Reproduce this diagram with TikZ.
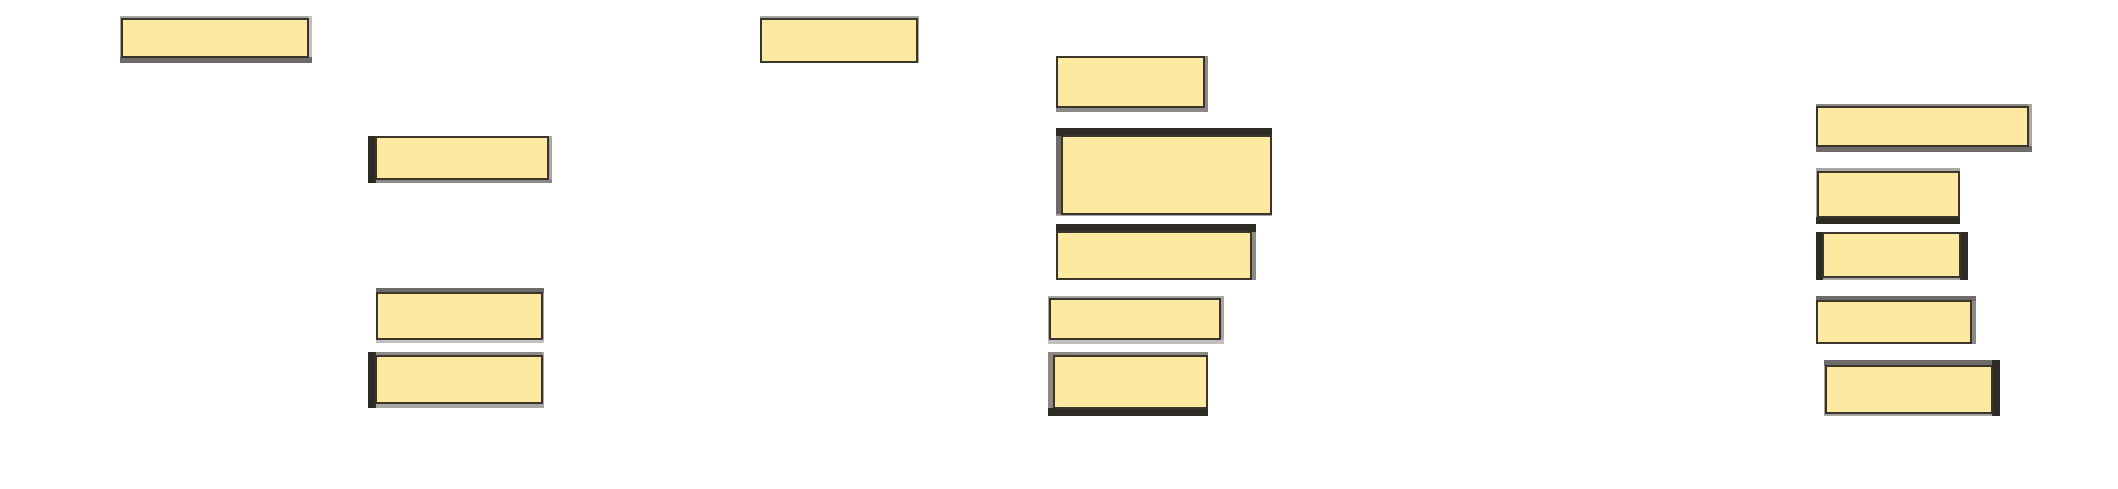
\documentclass[tikz,border=0pt]{standalone}
\usetikzlibrary{calc}
\definecolor{boxyel}{HTML}{FEE9A0}
\definecolor{boxline}{HTML}{3A3528}
\definecolor{cdk}{HTML}{2E2A25}
\definecolor{cmd}{HTML}{6E6B6A}
\definecolor{cgr}{HTML}{8C8987}
\definecolor{clt}{HTML}{A9A6A4}
\definecolor{clr}{HTML}{C2C0BE}
\tikzset{
  dk/.style={fill=cdk},
  md/.style={fill=cmd},
  gr/.style={fill=cgr},
  lt/.style={fill=clt},
  lr/.style={fill=clr},
  ibox/.style={draw=boxline,fill=boxyel,line width=1.2pt,inner sep=0pt,outer sep=0pt}
}
% \ibx{name}{ix1}{iy1}{ix2}{iy2}
\newcommand{\ibx}[5]{\draw[ibox] (#2,#3) rectangle (#4,#5) coordinate (#1);}
\begin{document}
\begin{tikzpicture}[x=1pt,y=-1pt]
\useasboundingbox (0,0) rectangle (2118,488);
\fill[white] (0,0) rectangle (2118,488);
% Box 1
\fill[lt] (120,16) rectangle (312,19);
\fill[lt] (120,16) rectangle (122,63);
\fill[lr] (308,16) rectangle (312,63);
\fill[md] (120,57) rectangle (312,63);
\ibx{b1}{122}{19}{308}{57}
% Box 2
\fill[lr] (368,136) rectangle (552,137);
\fill[lt] (548,136) rectangle (552,183);
\fill[gr] (368,179) rectangle (552,183);
\fill[dk] (368,136) rectangle (376,183);
\ibx{b2}{376}{137}{548}{179}
% Box 3
\fill[lt] (376,288) rectangle (377,343);
\fill[lt] (542,288) rectangle (544,343);
\fill[lr] (376,339) rectangle (544,343);
\fill[md] (376,288) rectangle (544,293);
\ibx{b3}{377}{293}{542}{339}
% Box 4
\fill[gr] (368,352) rectangle (544,356);
\fill[lt] (542,352) rectangle (544,408);
\fill[lt] (368,403) rectangle (544,408);
\fill[dk] (368,352) rectangle (376,408);
\ibx{b4}{376}{356}{542}{403}
% Box 5
\fill[lt] (760,16) rectangle (919,19);
\fill[lt] (760,16) rectangle (761,63);
\fill[lt] (917,16) rectangle (919,63);
\ibx{b5}{761}{19}{917}{62}
% Box 6
\fill[gr] (1204,56) rectangle (1208,112);
\fill[gr] (1056,107) rectangle (1208,112);
\ibx{b6}{1057}{57}{1204}{107}
% Box 7
\fill[md] (1056,128) rectangle (1062,216);
\fill[lt] (1056,214) rectangle (1272,216);
\fill[dk] (1056,128) rectangle (1272,136);
\ibx{b7}{1062}{136}{1271}{214}
% Box 8
\fill[gr] (1251,224) rectangle (1256,280);
\fill[dk] (1056,224) rectangle (1256,232);
\ibx{b8}{1057}{232}{1251}{279}
% Box 9
\fill[lt] (1048,296) rectangle (1224,299);
\fill[lt] (1048,296) rectangle (1050,344);
\fill[lt] (1220,296) rectangle (1224,344);
\fill[lr] (1048,339) rectangle (1224,344);
\ibx{b9}{1050}{299}{1220}{339}
% Box 10
\fill[gr] (1048,352) rectangle (1208,356);
\fill[gr] (1048,352) rectangle (1054,416);
\fill[dk] (1048,408) rectangle (1208,416);
\ibx{b10}{1054}{356}{1207}{408}
% Box 11
\fill[gr] (1816,104) rectangle (2032,107);
\fill[lt] (2028,104) rectangle (2032,152);
\fill[md] (1816,146) rectangle (2032,152);
\ibx{b11}{1817}{107}{2028}{146}
% Box 12
\fill[lt] (1816,168) rectangle (1960,172);
\fill[lt] (1816,168) rectangle (1818,224);
\fill[dk] (1816,217) rectangle (1960,224);
\ibx{b12}{1818}{172}{1959}{217}
% Box 13
\fill[lt] (1816,277) rectangle (1968,280);
\fill[dk] (1816,232) rectangle (1823,280);
\fill[dk] (1960,232) rectangle (1968,280);
\ibx{b13}{1823}{233}{1960}{277}
% Box 14
\fill[gr] (1971,296) rectangle (1976,344);
\fill[md] (1816,296) rectangle (1976,301);
\ibx{b14}{1817}{301}{1971}{343}
% Box 15
\fill[lt] (1824,360) rectangle (1826,416);
\fill[lt] (1824,413) rectangle (2000,416);
\fill[md] (1824,360) rectangle (2000,366);
\fill[dk] (1992,360) rectangle (2000,416);
\ibx{b15}{1826}{366}{1992}{413}
\end{tikzpicture}
\end{document}
